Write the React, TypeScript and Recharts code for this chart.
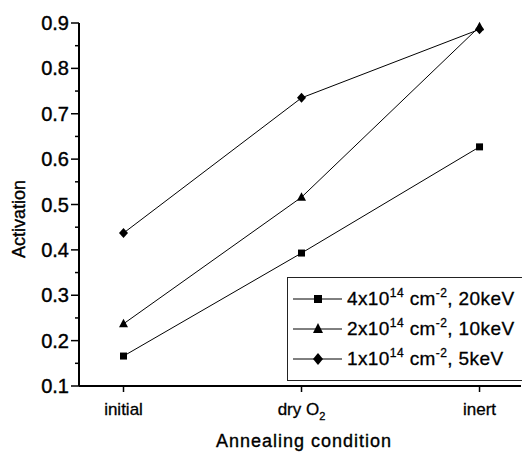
import { LineChart, Line, XAxis, YAxis } from "recharts";

const categories = ["initial", "dry O2", "inert"];
const dose4e14 = [0.166, 0.393, 0.627];
const dose2e14 = [0.237, 0.516, 0.892];
const dose1e14 = [0.437, 0.735, 0.886];
const yTicks = [
  0.1, 0.15, 0.2, 0.25, 0.3, 0.35, 0.4, 0.45, 0.5, 0.55, 0.6, 0.65, 0.7,
  0.75, 0.8, 0.85, 0.9,
];
const seriesNames = ["4x10|14| cm|-2|, 20keV", "2x10|14| cm|-2|, 10keV", "1x10|14| cm|-2|, 5keV"];

const data = categories.map((name, i) => ({
  x: i,
  name,
  s1: dose4e14[i],
  s2: dose2e14[i],
  s3: dose1e14[i],
}));

const FONT = "'Liberation Sans', Arial, sans-serif";

const Square = ({ cx, cy }: any) => (
  <rect x={cx - 3.5} y={cy - 3.5} width={7} height={7} fill="#000" />
);
const Triangle = ({ cx, cy }: any) => (
  <path d={`M${cx},${cy - 5} L${cx + 4.5},${cy + 3.5} L${cx - 4.5},${cy + 3.5} Z`} fill="#000" />
);
const Diamond = ({ cx, cy }: any) => (
  <path d={`M${cx},${cy - 5} L${cx + 4.5},${cy} L${cx},${cy + 5} L${cx - 4.5},${cy} Z`} fill="#000" />
);

const YTick = ({ x, y, index, payload }: any) => {
  const major = index % 2 === 0;
  return (
    <g>
      <line x1={x - (major ? 8 : 4)} x2={x} y1={y} y2={y} stroke="#000" strokeWidth={1.5} />
      {major && (
        <text x={x - 10} y={y} dy={7} textAnchor="end" fontSize={20} fontFamily={FONT} fill="#000" stroke="#000" strokeWidth={0.4}>
          {payload.value.toFixed(1)}
        </text>
      )}
    </g>
  );
};

const XTick = ({ x, y, payload }: any) => {
  const label = categories[payload.value];
  return (
    <g>
      <line x1={x} x2={x} y1={y} y2={y + 6} stroke="#000" strokeWidth={1.5} />
      <text x={x} y={y + 29} textAnchor="middle" fontSize={17} fontFamily={FONT} fill="#000" stroke="#000" strokeWidth={0.3}>
        {label === "dry O2" ? (
          <>
            dry O<tspan fontSize={11} dy={5}>2</tspan>
          </>
        ) : (
          label
        )}
      </text>
    </g>
  );
};

function LegendText({ text }: { text: string }) {
  const parts = text.split("|");
  return (
    <span>
      {parts.map((p, i) =>
        i % 2 === 1 ? (
          <sup key={i} style={{ fontSize: 12, verticalAlign: 0, position: "relative", top: -8 }}>
            {p}
          </sup>
        ) : (
          <span key={i}>{p}</span>
        )
      )}
    </span>
  );
}

const markers = [
  <rect x={21} y={6} width={8} height={8} fill="#000" />,
  <path d="M25,4 L30,14 L20,14 Z" fill="#000" />,
  <path d="M25,4 L30,10 L25,16 L20,10 Z" fill="#000" />,
];

export default function App() {
  return (
    <div style={{ position: "absolute", left: 0, top: 0, width: 522, height: 453, overflow: "hidden", background: "#fff" }}>
      <LineChart width={522} height={453} data={data} margin={{ top: 23, right: 1, bottom: 0, left: 0 }}>
        <XAxis
          dataKey="x"
          type="number"
          domain={[-0.25, 2.233]}
          ticks={[0, 1, 2]}
          allowDataOverflow
          height={67}
          tickSize={0}
          tickMargin={0}
          tickLine={false}
          axisLine={{ stroke: "#000", strokeWidth: 2 }}
          tick={<XTick />}
          label={{
            content: () => (
              <text x={304} y={447} textAnchor="middle" fontSize={18} fontFamily={FONT} fill="#000" stroke="#000" strokeWidth={0.35} letterSpacing={1}>
                Annealing condition
              </text>
            ),
          }}
        />
        <YAxis
          type="number"
          domain={[0.1, 0.9]}
          ticks={yTicks}
          interval={0}
          width={79}
          tickSize={0}
          tickMargin={0}
          tickLine={false}
          axisLine={{ stroke: "#000", strokeWidth: 2 }}
          tick={<YTick />}
          label={{
            content: () => (
              <text
                x={19}
                y={219}
                textAnchor="middle"
                dominantBaseline="central"
                transform="rotate(-90, 19, 219)"
                fontSize={18}
                fontFamily={FONT}
                fill="#000"
                stroke="#000"
                strokeWidth={0.35}
              >
                Activation
              </text>
            ),
          }}
        />
        <Line dataKey="s1" type="linear" stroke="#000" strokeWidth={1} dot={<Square />} activeDot={false} isAnimationActive={false} />
        <Line dataKey="s2" type="linear" stroke="#000" strokeWidth={1} dot={<Triangle />} activeDot={false} isAnimationActive={false} />
        <Line dataKey="s3" type="linear" stroke="#000" strokeWidth={1} dot={<Diamond />} activeDot={false} isAnimationActive={false} />
      </LineChart>
      <div
        style={{
          position: "absolute",
          left: 287,
          top: 277,
          width: 240,
          height: 96,
          border: "1.5px solid #222",
          paddingTop: 6,
          fontFamily: FONT,
          fontSize: 19,
          letterSpacing: 0.4,
          whiteSpace: "nowrap",
          color: "#000",
          WebkitTextStroke: "0.3px #000",
        }}
      >
        {seriesNames.map((name, i) => (
          <div key={name} style={{ height: 30, display: "flex", alignItems: "center" }}>
            <svg width={49} height={20} style={{ marginLeft: 5, marginRight: 5, flexShrink: 0 }}>
              <line x1={0} x2={49} y1={10} y2={10} stroke="#000" strokeWidth={1} />
              {markers[i]}
            </svg>
            <LegendText text={name} />
          </div>
        ))}
      </div>
    </div>
  );
}
